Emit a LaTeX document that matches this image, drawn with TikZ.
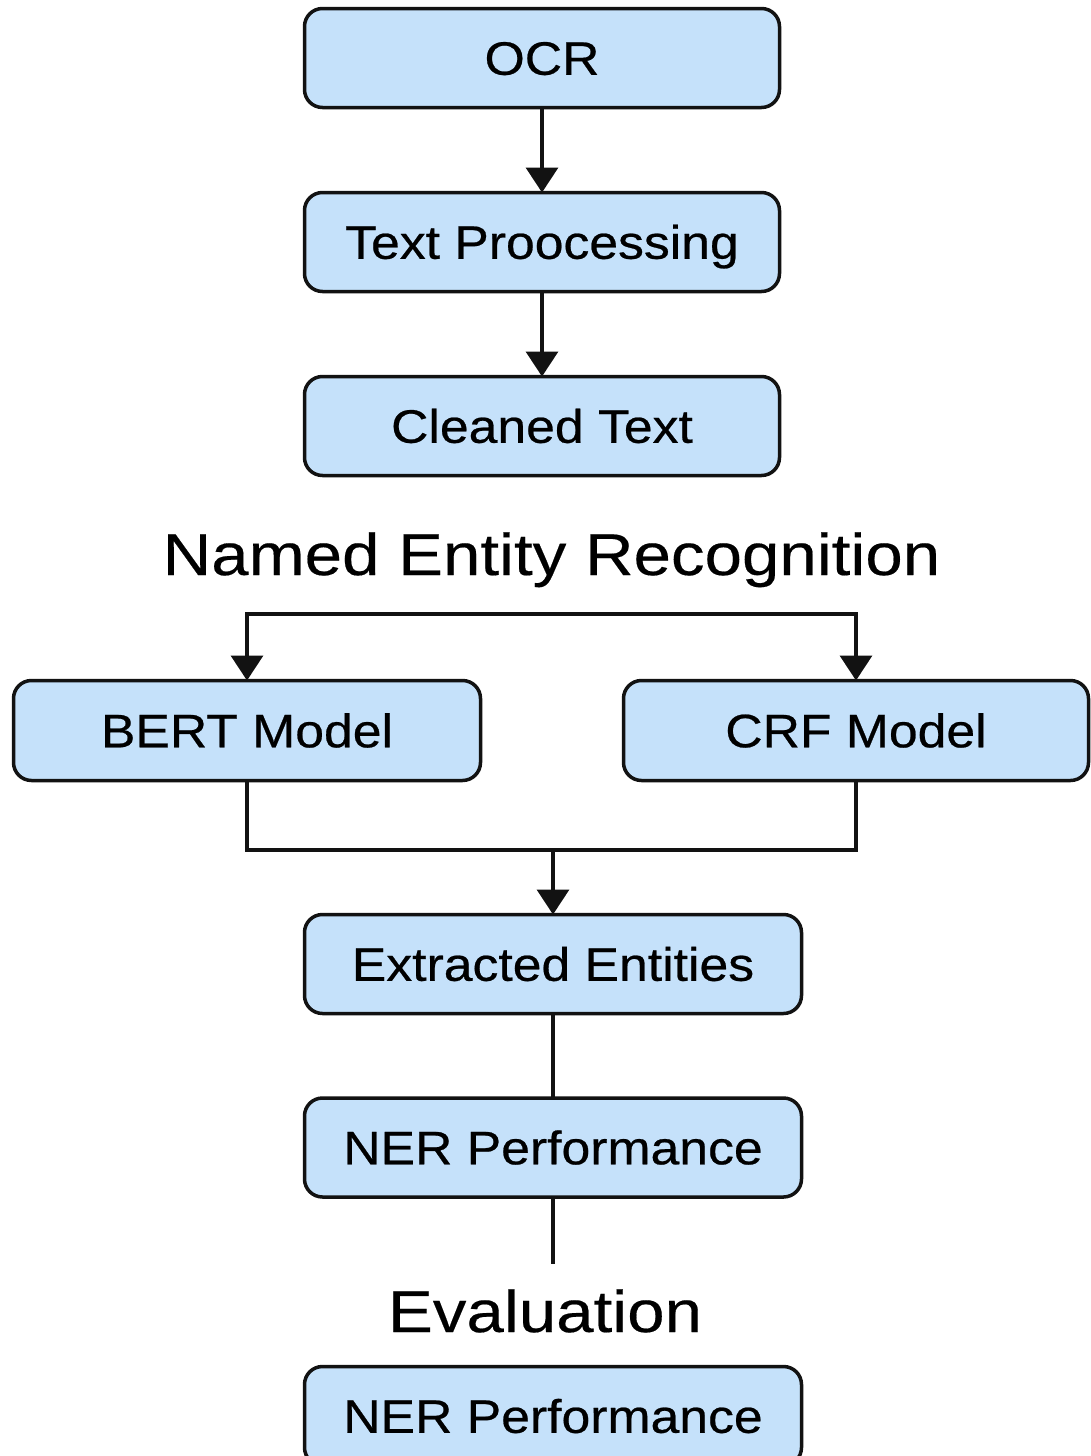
\documentclass[tikz,border=0pt]{standalone}
\usepackage{fontspec}
\setmainfont{Liberation Sans}
\newfontfamily\boxfont[FakeStretch=1.10,FakeBold=0.5]{Liberation Sans}
\newfontfamily\titlefont[FakeStretch=1.14,FakeBold=0.3]{Liberation Sans}
\usetikzlibrary{arrows.meta}
\definecolor{boxfill}{HTML}{C5E1FA}
\definecolor{edge}{HTML}{121212}
\tikzset{
  box/.style={draw=edge, line width=3.5pt, fill=boxfill, rounded corners=18pt,
    inner sep=0pt, outer sep=0pt, font=\boxfont\fontsize{47}{56}\selectfont,
    text height=33.6pt, text depth=0pt, align=center},
  conn/.style={line width=3.5pt, draw=edge},
  arr/.style={conn, -{Triangle[length=25pt,width=32pt]}},
  heading/.style={font=\titlefont\fontsize{59}{70}\selectfont, anchor=base, inner sep=0pt},
}
\begin{document}
\begin{tikzpicture}[x=1pt,y=-1pt]
\useasboundingbox (0,0) rectangle (1091,1456);
\fill[white] (0,0) rectangle (1091,1456);
\node[box, minimum width=475pt, minimum height=99pt] (ocr) at (542,58) {OCR};
\node[box, minimum width=475pt, minimum height=99pt] (tp) at (542,242) {Text Proocessing};
\node[box, minimum width=475pt, minimum height=99pt] (clean) at (542,426) {Cleaned Text};
\node[heading] (ner) at (551.5,575) {Named Entity Recognition};
\node[box, minimum width=467pt, minimum height=100pt] (bert) at (247,730.5) {BERT Model};
\node[box, minimum width=465pt, minimum height=100pt] (crf) at (856,730.5) {CRF Model};
\node[box, minimum width=497pt, minimum height=99pt] (ext) at (553,964) {Extracted Entities};
\node[box, minimum width=497pt, minimum height=99pt] (perf) at (553,1147.5) {NER Performance};
\node[heading] (eval) at (545,1332) {Evaluation};
\node[box, minimum width=497pt, minimum height=99pt] (perf2) at (553,1416) {NER Performance};
\coordinate (split) at (552,614);
\coordinate (merge) at (553,850);
\coordinate (evend) at (553,1264);
\draw[arr] (ocr) -- (tp);
\draw[arr] (tp) -- (clean);
\draw[arr] (split) -| (bert.north);
\draw[arr] (split) -| (crf.north);
\draw[conn] (bert.south) |- (merge) -| (crf.south);
\draw[arr] (merge) -- (ext.north);
\draw[conn] (ext) -- (perf);
\draw[conn] (perf.south) -- (evend);
\end{tikzpicture}
\end{document}
